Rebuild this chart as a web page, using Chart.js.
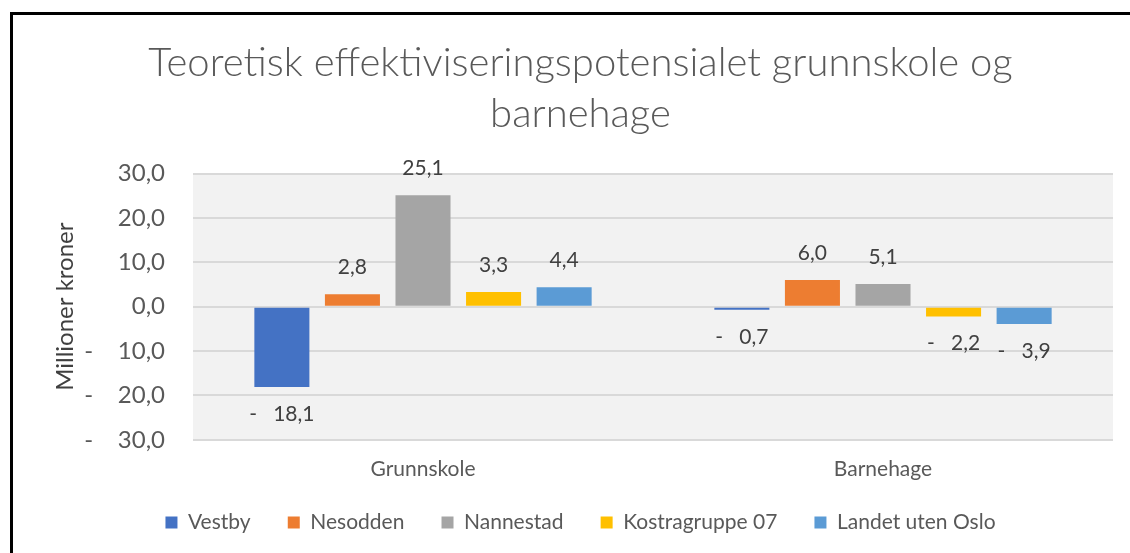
<!DOCTYPE html>
<html>
<head>
<meta charset="utf-8">
<script src="https://cdn.jsdelivr.net/npm/chart.js@4.4.0/dist/chart.umd.min.js"></script>
<style>
  body { margin: 0; background: #fff; }
  #wrap { position: relative; width: 1130px; height: 553px; }
  #frame { position: absolute; left: 10px; top: 12px; width: 1200px; height: 600px; border: 3px solid #000; box-sizing: border-box; }
  canvas { position: absolute; left: 0; top: 0; }
</style>
</head>
<body>
<div id="wrap">
  <div id="frame"></div>
  <canvas id="myChart" width="1130" height="553"></canvas>
</div>
<script>
var categories = ['Grunnskole', 'Barnehage']
var seriesNames = ['Vestby', 'Nesodden', 'Nannestad', 'Kostragruppe 07', 'Landet uten Oslo']
var seriesColors = ['#4472C4', '#ED7D31', '#A5A5A5', '#FFC000', '#5B9BD5']
var vestby = [-18.1, -0.7]
var nesodden = [2.8, 6.0]
var nannestad = [25.1, 5.1]
var kostragruppe = [3.3, -2.2]
var landet = [4.4, -3.9]
var seriesValues = [vestby, nesodden, nannestad, kostragruppe, landet]

var FONT = 'Lato'
var TEXT = '#595959'

// excel style: "-   10,0"
function fmt(v, gap) {
    var s = Math.abs(v).toFixed(1).replace('.', ',')
    return v < 0 ? '-' + gap + s : s
}

// grey plot area
var plotBg = {
    id: 'plotBg',
    beforeDraw: function(chart) {
        var a = chart.chartArea
        var ctx = chart.ctx
        ctx.save()
        ctx.fillStyle = '#F2F2F2'
        ctx.fillRect(a.left, a.top, a.right - a.left, a.bottom - a.top)
        ctx.restore()
    }
}

// value labels outside the bar ends
var barLabels = {
    id: 'barLabels',
    afterDatasetsDraw: function(chart) {
        var ctx = chart.ctx
        ctx.save()
        ctx.font = '21px ' + FONT
        ctx.fillStyle = '#404040'
        ctx.textAlign = 'center'
        ctx.textBaseline = 'middle'
        chart.data.datasets.forEach(function(ds, i) {
            chart.getDatasetMeta(i).data.forEach(function(bar, j) {
                var v = ds.data[j]
                var y = v >= 0 ? bar.y - 27 : bar.y + 27
                ctx.fillText(fmt(v, '   '), bar.x, y)
            })
        })
        ctx.restore()
    }
}

var datasets = seriesNames.map(function(name, i) {
    return {
        label: name,
        data: seriesValues[i],
        backgroundColor: seriesColors[i],
        categoryPercentage: 0.767,
        barPercentage: 0.78
    }
})

var ctx = document.getElementById('myChart').getContext('2d')
var myChart = new Chart(ctx, {
    type: 'bar',
    data: { labels: categories, datasets: datasets },
    plugins: [plotBg, barLabels],
    options: {
        responsive: false,
        animation: false,
        layout: { padding: { left: 48, right: 17, top: 28, bottom: 10 } },
        plugins: {
            title: {
                display: true,
                text: ['Teoretisk effektiviseringspotensialet grunnskole og', 'barnehage'],
                color: TEXT,
                font: { family: FONT, size: 40, weight: '300', lineHeight: 1.27 },
                padding: { top: 10, bottom: 34 }
            },
            legend: {
                position: 'bottom',
                labels: {
                    color: TEXT,
                    font: { family: FONT, size: 21 },
                    boxWidth: 12,
                    boxHeight: 12,
                    padding: 21,
                    generateLabels: function(chart) {
                        var items = Chart.defaults.plugins.legend.labels.generateLabels(chart)
                        items.forEach(function(it, i) {
                            if (i < items.length - 1) it.text = it.text + '   '
                        })
                        return items
                    }
                }
            },
            tooltip: { enabled: false }
        },
        scales: {
            x: {
                grid: { display: false },
                border: { display: false },
                ticks: { color: TEXT, font: { family: FONT, size: 21 }, padding: 9 }
            },
            y: {
                min: -30,
                max: 30,
                afterFit: function(scale) { scale.width = 145 },
                ticks: {
                    stepSize: 10,
                    color: TEXT,
                    font: { family: FONT, size: 24 },
                    padding: 28,
                    callback: function(v) { return fmt(v, '    ') }
                },
                grid: { color: '#D9D9D9', lineWidth: 2, drawTicks: false },
                border: { display: false },
                title: {
                    display: true,
                    text: 'Millioner kroner',
                    color: '#404040',
                    font: { family: FONT, size: 24 },
                    padding: { top: 3, bottom: 0 }
                }
            }
        }
    }
})
</script>
</body>
</html>
